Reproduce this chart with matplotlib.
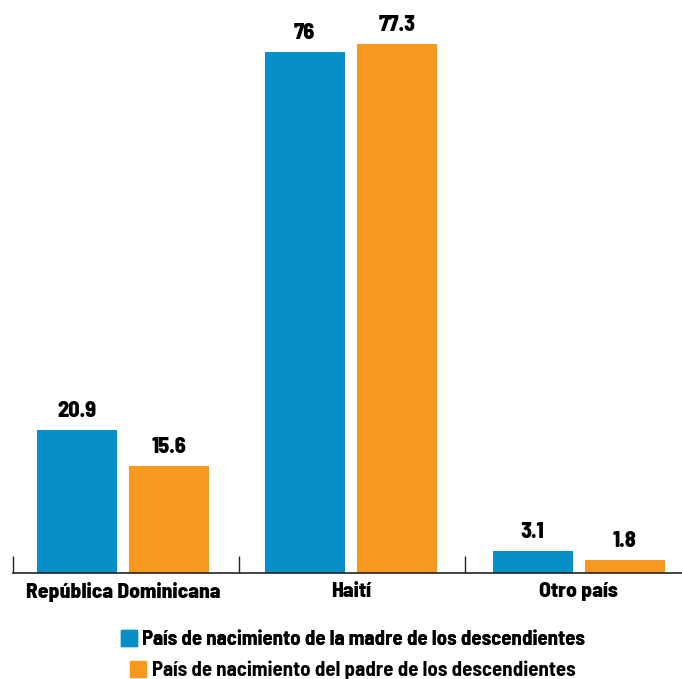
import matplotlib
matplotlib.use("Agg")
import matplotlib.pyplot as plt
import numpy as np
from matplotlib.patches import Patch

categories = ["República Dominicana", "Haití", "Otro país"]
madre = [20.9, 76, 3.1]
padre = [15.6, 77.3, 1.8]
labels_madre = ["20.9", "76", "3.1"]
labels_padre = ["15.6", "77.3", "1.8"]
series_names = ["País de nacimiento de la madre de los descendientes",
                "País de nacimiento del padre de los descendientes"]

BLUE = "#0790C8"
ORANGE = "#F8981F"
FONT = ["Barlow Semi Condensed", "DejaVu Sans"]

W, H = 682, 679
PX_PER_CAT = 228.0
PX_PER_UNIT = 6.845
X0 = 122.8  # pixel of category 0 centre
XL = -0.483
XR = 2.5
fig = plt.figure(figsize=(W/100, H/100), dpi=100)
left_px = X0 + XL * PX_PER_CAT
ax = fig.add_axes([left_px / W, (H - 572.7) / H,
                   (XR - XL) * PX_PER_CAT / W, 80 * PX_PER_UNIT / H])

x = np.arange(len(categories))
bw = 0.351
off = 0.2023
b1 = ax.bar(x - off, madre, bw, color=BLUE)
b2 = ax.bar(x + off, padre, bw, color=ORANGE)

for bars, labs in ((b1, labels_madre), (b2, labels_padre)):
    for rect, lab in zip(bars, labs):
        ax.annotate(lab, (rect.get_x() + rect.get_width()/2, rect.get_height()),
                    xytext=(0, 13), textcoords="offset pixels", ha="center", va="baseline",
                    fontsize=16, fontweight=800, family=FONT, color="#000000")

ax.set_xlim(XL, XR)
ax.set_ylim(0, 80)
for s in ["top", "right", "left"]:
    ax.spines[s].set_visible(False)
ax.spines["bottom"].set_color("#222222")
ax.spines["bottom"].set_linewidth(1.2)
ax.set_yticks([])
ax.set_xticks([XL, 0.51, 1.5])
ax.set_xticklabels([])
ax.tick_params(axis="x", direction="in", length=12, width=1, color="#222222")
ax.set_xticks(x, minor=True)
ax.set_xticklabels(categories, minor=True, fontsize=15.5, fontweight=800, family=FONT)
ax.tick_params(axis="x", which="minor", length=0, pad=7)

cx = (left_px + (XR - XL) * PX_PER_CAT / 2) / W
prop = {"family": FONT, "weight": 700, "size": 15}
leg1 = fig.legend(handles=[Patch(color=BLUE)], labels=[series_names[0]],
                  loc="center", bbox_to_anchor=(cx, 1 - 639.5/H), frameon=False, prop=prop,
                  handlelength=0.77, handleheight=0.77, handletextpad=0.25, borderpad=0)
leg2 = fig.legend(handles=[Patch(color=ORANGE)], labels=[series_names[1]],
                  loc="center", bbox_to_anchor=(cx, 1 - 670.5/H), frameon=False, prop=prop,
                  handlelength=0.77, handleheight=0.77, handletextpad=0.25, borderpad=0)
fig.add_artist(leg1)

fig.savefig("out.png", dpi=100)
